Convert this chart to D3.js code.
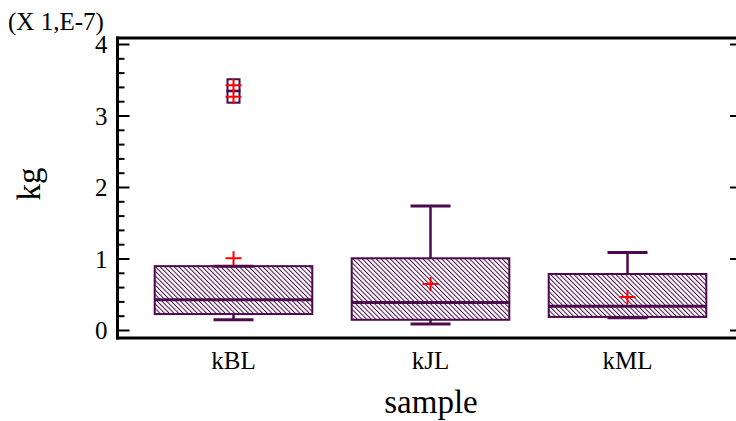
<!DOCTYPE html>
<html>
<head>
<meta charset="utf-8">
<script src="https://cdn.jsdelivr.net/npm/d3@7"></script>
<style>
  body { margin: 0; background: #fff; }
  text { font-family: "Liberation Serif", "Times New Roman", serif; fill: #000; }
</style>
</head>
<body>
<script>
// box plot values, in units of 1e-7 kg
var categories = ["kBL", "kJL", "kML"];
var whiskerLow = [0.15, 0.09, 0.18];
var q1 = [0.23, 0.15, 0.19];
var medians = [0.43, 0.39, 0.34];
var q3 = [0.90, 1.01, 0.79];
var whiskerHigh = [0.90, 1.74, 1.09];
var means = [1.01, 0.65, 0.47];
// outside points: [category index, value]
var outliers = [[0, 3.43], [0, 3.27]];
var yTicks = [0, 1, 2, 3, 4];

var width = 736, height = 421;
var purple = "#4b0a4b";

var svg = d3.select("body").append("svg")
  .attr("width", width)
  .attr("height", height);

// diagonal hatch for the boxes
var defs = svg.append("defs");
defs.append("pattern")
  .attr("id", "hatch")
  .attr("patternUnits", "userSpaceOnUse")
  .attr("width", 3.3)
  .attr("height", 10)
  .attr("patternTransform", "rotate(-45)")
  .append("line")
  .attr("x1", 0.5).attr("y1", 0)
  .attr("x2", 0.5).attr("y2", 10)
  .attr("stroke", purple)
  .attr("stroke-width", 1);

var plotLeft = 117.5, plotRight = 736, plotTop = 38, plotBottom = 338;

var y = d3.scaleLinear().domain([0, 4]).range([330.5, 44.5]);
var x = d3.scaleBand().domain(categories).range([135, 726]).paddingInner(0.2).paddingOuter(0.1);

// frame lines
svg.append("line").attr("x1", plotLeft - 1.5).attr("x2", plotRight).attr("y1", plotTop).attr("y2", plotTop)
  .attr("stroke", "#000").attr("stroke-width", 3);
svg.append("line").attr("x1", plotLeft - 1.5).attr("x2", plotRight).attr("y1", plotBottom).attr("y2", plotBottom)
  .attr("stroke", "#000").attr("stroke-width", 3);

// left axis with inward ticks
var yAxis = svg.append("g").attr("transform", "translate(" + plotLeft + ",0)");
yAxis.append("line").attr("x1", 0).attr("x2", 0).attr("y1", plotTop - 1.5).attr("y2", plotBottom + 1.5)
  .attr("stroke", "#000").attr("stroke-width", 3);
var minor = d3.range(0, 4.01, 0.2);
yAxis.selectAll(".minor").data(minor).enter().append("line")
  .attr("x1", 0).attr("x2", function(d){ return Math.abs(d - Math.round(d)) < 1e-6 ? 12 : 7; })
  .attr("y1", function(d){ return y(d); }).attr("y2", function(d){ return y(d); })
  .attr("stroke", "#000").attr("stroke-width", 2);
yAxis.selectAll(".lbl").data(yTicks).enter().append("text")
  .attr("x", -10).attr("y", function(d){ return y(d); })
  .attr("dy", "0.35em")
  .attr("text-anchor", "end")
  .attr("font-size", 25)
  .text(function(d){ return d; });

// right side ticks
svg.selectAll(".rtick").data(yTicks).enter().append("line")
  .attr("x1", 730).attr("x2", 736)
  .attr("y1", function(d){ return y(d); }).attr("y2", function(d){ return y(d); })
  .attr("stroke", "#000").attr("stroke-width", 2);

svg.append("text").attr("x", 8).attr("y", 30).attr("font-size", 25).text("(X 1,E-7)");

// axis titles
svg.append("text")
  .attr("transform", "translate(40,184) rotate(-90)")
  .attr("text-anchor", "middle")
  .attr("font-size", 33)
  .text("kg");
svg.append("text")
  .attr("x", 431).attr("y", 413)
  .attr("text-anchor", "middle")
  .attr("font-size", 33)
  .text("sample");

// category labels
svg.selectAll(".cat").data(categories).enter().append("text")
  .attr("x", function(d){ return x(d) + x.bandwidth() / 2; })
  .attr("y", 369)
  .attr("text-anchor", "middle")
  .attr("font-size", 25)
  .text(function(d){ return d; });

var idx = d3.range(categories.length);
var cx = function(i){ return x(categories[i]) + x.bandwidth() / 2; };
var capHalf = 20;

// whiskers
var g = svg.append("g");
g.selectAll(".wlo").data(idx).enter().append("line")
  .attr("x1", cx).attr("x2", cx)
  .attr("y1", function(i){ return y(q1[i]); }).attr("y2", function(i){ return y(whiskerLow[i]); })
  .attr("stroke", purple).attr("stroke-width", 2.5);
g.selectAll(".whi").data(idx).enter().append("line")
  .attr("x1", cx).attr("x2", cx)
  .attr("y1", function(i){ return y(q3[i]); }).attr("y2", function(i){ return y(whiskerHigh[i]); })
  .attr("stroke", purple).attr("stroke-width", 2.5);
g.selectAll(".clo").data(idx).enter().append("line")
  .attr("x1", function(i){ return cx(i) - capHalf; }).attr("x2", function(i){ return cx(i) + capHalf; })
  .attr("y1", function(i){ return y(whiskerLow[i]); }).attr("y2", function(i){ return y(whiskerLow[i]); })
  .attr("stroke", purple).attr("stroke-width", 3);
g.selectAll(".chi").data(idx).enter().append("line")
  .attr("x1", function(i){ return cx(i) - capHalf; }).attr("x2", function(i){ return cx(i) + capHalf; })
  .attr("y1", function(i){ return y(whiskerHigh[i]); }).attr("y2", function(i){ return y(whiskerHigh[i]); })
  .attr("stroke", purple).attr("stroke-width", 3);

// boxes
g.selectAll(".box").data(idx).enter().append("rect")
  .attr("x", function(i){ return x(categories[i]); })
  .attr("width", x.bandwidth())
  .attr("y", function(i){ return y(q3[i]); })
  .attr("height", function(i){ return y(q1[i]) - y(q3[i]); })
  .attr("fill", "url(#hatch)")
  .attr("stroke", purple).attr("stroke-width", 2);
g.selectAll(".med").data(idx).enter().append("line")
  .attr("x1", function(i){ return x(categories[i]); })
  .attr("x2", function(i){ return x(categories[i]) + x.bandwidth(); })
  .attr("y1", function(i){ return y(medians[i]); }).attr("y2", function(i){ return y(medians[i]); })
  .attr("stroke", purple).attr("stroke-width", 3);

// plus marker
var plus = function(sel, px, py) {
  sel.append("path")
    .attr("d", "M" + (px - 8) + "," + py + "H" + (px + 8) + "M" + px + "," + (py - 7) + "V" + (py + 7))
    .attr("stroke", "#ff0000").attr("stroke-width", 2).attr("fill", "none");
};

// outside points
outliers.forEach(function(o){
  g.append("rect")
    .attr("x", cx(o[0]) - 6).attr("y", y(o[1]) - 6)
    .attr("width", 12).attr("height", 12)
    .attr("fill", "none").attr("stroke", purple).attr("stroke-width", 2);
});
outliers.forEach(function(o){ plus(g, cx(o[0]), y(o[1])); });

// means
idx.forEach(function(i){ plus(g, cx(i), y(means[i])); });
</script>
</body>
</html>
